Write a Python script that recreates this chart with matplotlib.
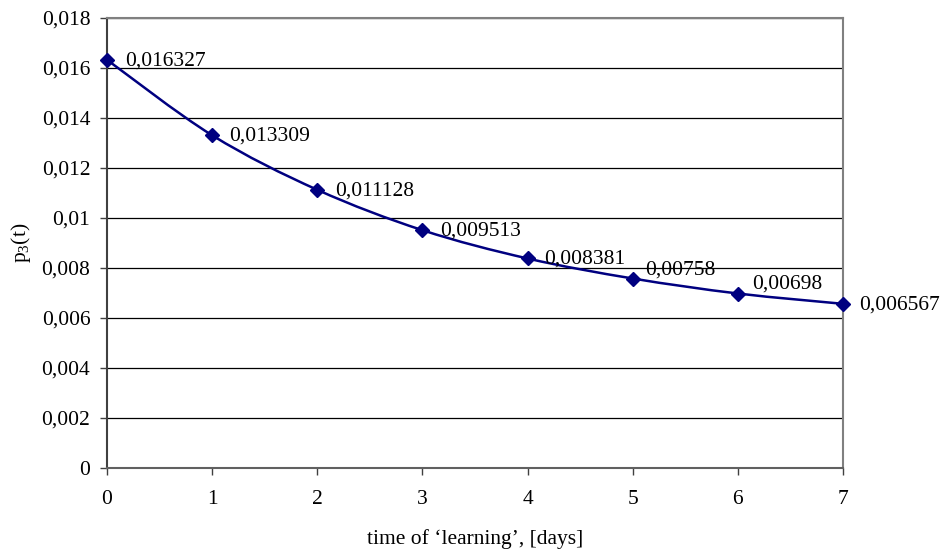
import numpy as np
import matplotlib
matplotlib.use("Agg")
import matplotlib.pyplot as plt
from matplotlib.path import Path
from matplotlib.patches import PathPatch

plt.rcParams["font.family"] = ["Liberation Serif", "DejaVu Serif"]
plt.rcParams["mathtext.fontset"] = "custom"
plt.rcParams["mathtext.rm"] = "Liberation Serif"
plt.rcParams["mathtext.default"] = "regular"

days = [0, 1, 2, 3, 4, 5, 6, 7]
p3 = [0.016327, 0.013309, 0.011128, 0.009513, 0.008381, 0.00758, 0.00698, 0.006567]
labels = ["0,016327", "0,013309", "0,011128", "0,009513", "0,008381", "0,00758", "0,00698", "0,006567"]
yticks = [0, 0.002, 0.004, 0.006, 0.008, 0.01, 0.012, 0.014, 0.016, 0.018]
ytick_labels = ["0", "0,002", "0,004", "0,006", "0,008", "0,01", "0,012", "0,014", "0,016", "0,018"]

# label offsets in pixels (a couple were nudged up in the original)
label_offsets = [(18, -1), (17, -1), (18, -1), (18, -1), (17, -1), (12, 8), (14, 9), (16, -1)]

LINE = "#000080"
FS = 15.5

fig = plt.figure(figsize=(9.4, 5.52), dpi=100)
ax = fig.add_axes([107 / 940, 1 - 468 / 552, (843 - 107) / 940, (468 - 18) / 552])

# smoothed line like Excel: cubic bezier segments, Catmull-Rom control points
x = np.array(days, float)
y = np.array(p3, float)
verts = [(x[0], y[0])]
codes = [Path.MOVETO]
n = len(x)
for i in range(n - 1):
    x0, y0 = (x[i - 1], y[i - 1]) if i > 0 else (x[i], y[i])
    x3, y3 = (x[i + 2], y[i + 2]) if i + 2 < n else (x[i + 1], y[i + 1])
    c1 = (x[i] + (x[i + 1] - x0) / 6, y[i] + (y[i + 1] - y0) / 6)
    c2 = (x[i + 1] - (x3 - x[i]) / 6, y[i + 1] - (y3 - y[i]) / 6)
    verts += [c1, c2, (x[i + 1], y[i + 1])]
    codes += [Path.CURVE4] * 3
ax.add_patch(PathPatch(Path(verts, codes), fill=False, edgecolor=LINE, lw=1.8, zorder=3))
ax.plot(days, p3, ls="none", marker="D", ms=7.5, color=LINE, zorder=4, clip_on=False)

for xi, yi, lab, off in zip(days, p3, labels, label_offsets):
    ax.annotate(lab, (xi, yi), xytext=off, textcoords="offset pixels",
                fontsize=FS, ha="left", va="center", annotation_clip=False)

ax.set_xlim(0, 7)
ax.set_ylim(0, 0.018)
ax.set_xticks(days)
ax.set_xticklabels([str(d) for d in days], fontsize=FS)
ax.set_yticks(yticks)
ax.set_yticklabels(ytick_labels, fontsize=FS)
ax.yaxis.grid(True, color="black", lw=0.9)
ax.set_axisbelow(True)
ax.tick_params(direction="out", length=5, width=1, colors="#404040", labelcolor="black")
ax.tick_params(axis="x", pad=11)
ax.tick_params(axis="y", pad=7)

for side in ("top", "right"):
    ax.spines[side].set_color("#808080")
    ax.spines[side].set_linewidth(1.5)
ax.spines["left"].set_color("#404040")
ax.spines["bottom"].set_color("#606060")
ax.spines["left"].set_linewidth(1.5)
ax.spines["bottom"].set_linewidth(1.5)

ax.set_xlabel("time of \u2018learning\u2019, [days]", fontsize=FS, labelpad=14)
ax.set_ylabel("p$_3$(t)", fontsize=FS, labelpad=6)

fig.savefig("out.png", dpi=100)
